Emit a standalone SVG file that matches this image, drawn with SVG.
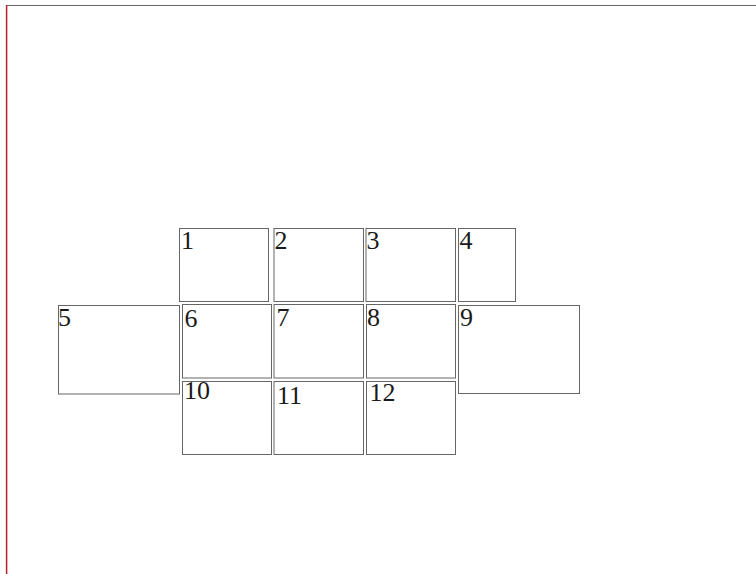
<svg xmlns="http://www.w3.org/2000/svg" width="756" height="574" viewBox="0 0 756 574">
<style>
.box{fill:#ffffff;stroke:#666666;stroke-width:1}
.lbl{font-family:"Liberation Serif","Times New Roman",serif;font-size:26px;fill:#1a1a1a}
</style>
<rect x="0" y="0" width="756" height="574" fill="#ffffff"/>
<line x1="6" y1="5.5" x2="756" y2="5.5" stroke="#666666" stroke-width="1.2"/>
<line x1="6.6" y1="5" x2="6.6" y2="574" stroke="#b3202c" stroke-width="1.5"/>
<g id="node1"><rect class="box" x="179.5" y="228.5" width="89" height="73"/><text class="lbl" x="181" y="249">1</text></g>
<g id="node2"><rect class="box" x="274" y="228.5" width="89.5" height="73"/><text class="lbl" x="274.5" y="249">2</text></g>
<g id="node3"><rect class="box" x="366" y="228.5" width="89.5" height="73"/><text class="lbl" x="366.5" y="249">3</text></g>
<g id="node4"><rect class="box" x="458.5" y="228.5" width="57" height="73"/><text class="lbl" x="459.5" y="249">4</text></g>
<g id="node5"><rect class="box" x="58.5" y="305.5" width="121" height="88.5"/><text class="lbl" x="58" y="325.7">5</text></g>
<g id="node6"><rect class="box" x="182.5" y="304.5" width="89" height="73.5"/><text class="lbl" x="184.5" y="327.3">6</text></g>
<g id="node7"><rect class="box" x="274" y="304.5" width="89.5" height="73.5"/><text class="lbl" x="276.5" y="325.7">7</text></g>
<g id="node8"><rect class="box" x="366.5" y="304.5" width="89" height="73.5"/><text class="lbl" x="367" y="325.7">8</text></g>
<g id="node9"><rect class="box" x="458.5" y="305.5" width="121" height="88"/><text class="lbl" x="460" y="325.7">9</text></g>
<g id="node10"><rect class="box" x="182.5" y="381.5" width="89" height="73"/><text class="lbl" x="184" y="399.3">10</text></g>
<g id="node11"><rect class="box" x="274" y="381.5" width="89.5" height="73"/><text class="lbl" x="277" y="404">11</text></g>
<g id="node12"><rect class="box" x="366.5" y="381.5" width="89" height="73"/><text class="lbl" x="369.5" y="401">12</text></g>
<g id="connectors"></g>
</svg>
